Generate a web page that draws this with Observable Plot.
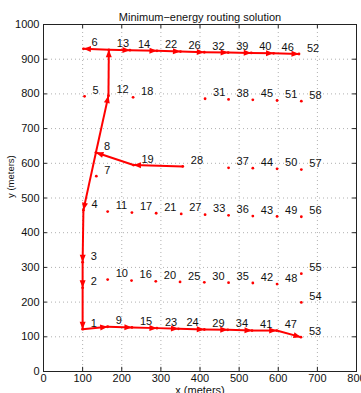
<!DOCTYPE html>
<html><head><meta charset="utf-8">
<script src="https://cdn.jsdelivr.net/npm/d3@7"></script>
<script src="https://cdn.jsdelivr.net/npm/@observablehq/plot@0.6"></script>
<style>body{margin:0;background:#fff;}</style>
</head><body><div id="chart"></div>
<script>
// Node ids and positions (meters)
const nodeIds = [1,2,3,4,5,6,7,8,9,10,11,12,13,14,15,16,17,18,19,20,21,22,23,24,25,26,27,28,29,30,31,32,33,34,35,36,37,38,39,40,41,42,43,44,45,46,47,48,49,50,51,52,53,54,55,56,57,58];
const nodeX = [100,100,100,102,105,102,135,134,164,164,164,166,167,221,226,225,226,229,230,287,288,290,290,345,349,350,352,356,411,411,413,411,413,471,473,473,473,473,472,531,533,535,535,535,535,588,596,597,597,597,597,653,658,659,659,659,659,659];
const nodeY = [122,241,315,465,793,930,563,631,129,265,461,795,927,926,127,262,458,790,595,260,456,924,125,123,258,922,454,591,121,257,786,920,452,120,256,450,587,784,919,918,118,255,448,586,783,917,118,252,447,584,781,915,99,199,282,446,582,779];
// Routing edges (from -> to)
const edgeFrom = [28,19,8,12,13,13,14,22,26,32,39,40,46,8,4,3,2,1,9,15,23,24,29,34,41,47];
const edgeTo   = [19,8,12,13,6,14,22,26,32,39,40,46,52,4,3,2,1,9,15,23,24,29,34,41,47,53];
const xTicks = [0,100,200,300,400,500,600,700,800];
const yTicks = [0,100,200,300,400,500,600,700,800,900,1000];
const titleText = "Minimum\u2212energy routing solution";
const xLabel = "x (meters)";
const yLabel = "y (meters)";

const W = 361, H = 393, mL = 43, mR = 5, mT = 24, mB = 22;
const xDomain = [0, 800], yDomain = [0, 1000];

const nodes = nodeIds.map((id, i) => ({id, x: nodeX[i], y: nodeY[i]}));
const byId = new Map(nodes.map(n => [n.id, n]));
const xs = Plot.scale({x: {domain: xDomain, range: [mL, W - mR]}});
const ys = Plot.scale({y: {domain: yDomain, range: [H - mB, mT]}});
const edges = edgeFrom.map((f, i) => {
  const a = byId.get(f), b = byId.get(edgeTo[i]);
  const dx = xs.apply(b.x) - xs.apply(a.x);
  const dy = ys.apply(b.y) - ys.apply(a.y);
  return {x1: a.x, y1: a.y, x2: b.x, y2: b.y, angle: Math.atan2(dx, -dy) * 180 / Math.PI};
});

const head = {
  draw(context) {
    context.moveTo(0, 0);
    context.lineTo(-3, 7.5);
    context.lineTo(3, 7.5);
    context.closePath();
  }
};

const red = "#ff0000";
const plot = Plot.plot({
  width: W, height: H,
  marginLeft: mL, marginRight: mR, marginTop: mT, marginBottom: mB,
  x: {domain: xDomain},
  y: {domain: yDomain},
  style: {fontFamily: "'Liberation Sans', Arial, sans-serif", fontSize: "11px", color: "#111", background: "#fff"},
  marks: [
    Plot.gridX(xTicks, {stroke: "#b0b0b0", strokeOpacity: 1, strokeDasharray: "1,3"}),
    Plot.gridY(yTicks, {stroke: "#b0b0b0", strokeOpacity: 1, strokeDasharray: "1,3"}),
    Plot.ruleX(xTicks, {y1: 0, y2: 12, stroke: "#222"}),
    Plot.ruleX(xTicks, {y1: 988, y2: 1000, stroke: "#222"}),
    Plot.ruleY(yTicks, {x1: 0, x2: 10, stroke: "#222"}),
    Plot.ruleY(yTicks, {x1: 790, x2: 800, stroke: "#222"}),
    Plot.frame({stroke: "#222"}),
    Plot.axisX(xTicks, {tickSize: 0, tickPadding: 3, label: null, fontSize: 11, tickFormat: d => String(d)}),
    Plot.axisY(yTicks, {tickSize: 0, tickPadding: 4, label: null, fontSize: 11, tickFormat: d => String(d)}),
    Plot.dot(nodes, {x: "x", y: "y", r: 1.4, fill: red, stroke: "none"}),
    Plot.link(edges, {x1: "x1", y1: "y1", x2: "x2", y2: "y2", stroke: red, strokeWidth: 2}),
    Plot.dot(edges, {x: "x2", y: "y2", symbol: head, r: 3, fill: red, stroke: "none", rotate: "angle"}),
    Plot.text(nodes, {x: "x", y: "y", text: d => String(d.id), dx: 8, dy: -6, textAnchor: "start", fontSize: 11, fill: "#111"}),
    Plot.text([titleText], {text: d => d, frameAnchor: "top", dy: -11, fontSize: 11, fill: "#111"}),
    Plot.text([xLabel], {text: d => d, frameAnchor: "bottom", dy: 22, fontSize: 11, fill: "#111"}),
    Plot.text([yLabel], {text: d => d, frameAnchor: "left", dx: -33, rotate: -90, fontSize: 9.5, fill: "#111"})
  ]
});
document.getElementById("chart").append(plot);
</script>
</body></html>
